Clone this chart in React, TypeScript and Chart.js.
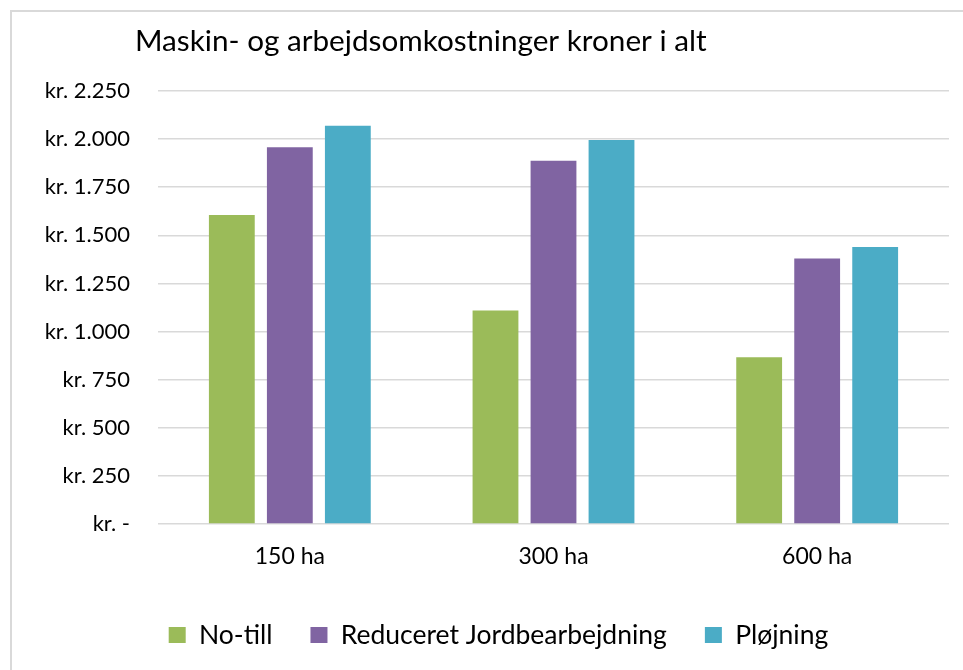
import React, { useEffect, useRef } from "react";
import { Chart, registerables } from "chart.js";

Chart.register(...registerables);

const titleText = "Maskin- og arbejdsomkostninger kroner i alt";
const categories = ["150 ha", "300 ha", "600 ha"];
const seriesNames = ["No-till", "Reduceret Jordbearbejdning", "Pløjning"];
const noTill = [1606, 1110, 866];
const reduceret = [1958, 1888, 1379];
const plojning = [2070, 1996, 1440];
const seriesColors = ["#9BBB59", "#8064A2", "#4BACC6"];
const yMin = 0;
const yMax = 2250;
const yStep = 250;

const FONT = "Lato, 'Noto Sans', sans-serif";

function formatKr(v: number): string {
  if (v === 0) return "kr. -";
  const s = Math.round(v).toString().replace(/\B(?=(\d{3})+(?!\d))/g, ".");
  return "kr. " + s;
}

const framePlugin = {
  id: "frame",
  beforeDraw(chart: any) {
    const ctx = chart.ctx;
    ctx.save();
    ctx.fillStyle = "#ffffff";
    ctx.fillRect(0, 0, chart.width, chart.height);
    ctx.strokeStyle = "#d9d9d9";
    ctx.lineWidth = 2;
    ctx.beginPath();
    ctx.moveTo(11, chart.height);
    ctx.lineTo(11, 11);
    ctx.lineTo(chart.width, 11);
    ctx.stroke();
    ctx.restore();
  },
};

const titlePlugin = {
  id: "leftTitle",
  afterDraw(chart: any) {
    const ctx = chart.ctx;
    ctx.save();
    ctx.font = `29.7px ${FONT}`;
    ctx.fillStyle = "#000000";
    ctx.textBaseline = "alphabetic";
    ctx.textAlign = "left";
    ctx.fillText(titleText, 135, 51);
    ctx.restore();
  },
};

export default function App() {
  const ref = useRef<HTMLCanvasElement | null>(null);

  useEffect(() => {
    if (!ref.current) return;
    const values = [noTill, reduceret, plojning];
    const chart = new Chart(ref.current, {
      type: "bar",
      data: {
        labels: categories,
        datasets: seriesNames.map((name, i) => ({
          label: name,
          data: values[i],
          backgroundColor: seriesColors[i],
          borderWidth: 0,
          categoryPercentage: 0.66,
          barPercentage: 0.79,
          yAxisID: "y",
        })),
      },
      plugins: [framePlugin, titlePlugin],
      options: {
        responsive: false,
        animation: false,
        events: [],
        layout: { padding: { left: 40, right: 6, top: 91, bottom: 11.75 } },
        plugins: {
          title: { display: false },
          tooltip: { enabled: false },
          legend: {
            display: true,
            position: "bottom",
            labels: {
              boxWidth: 17,
              boxHeight: 16,
              padding: 38,
              color: "#000000",
              font: { family: FONT, size: 26.5 },
            },
          },
        },
        scales: {
          x: {
            grid: { display: false, drawTicks: false },
            border: { display: false },
            afterFit(scale: any) {
              scale.height = 59.75;
            },
            ticks: {
              color: "#000000",
              font: { family: FONT, size: 23 },
              padding: 19,
            },
          },
          y: {
            min: yMin,
            max: yMax,
            position: "left",
            afterFit(scale: any) {
              scale.width = 118;
            },
            grid: { color: "#d9d9d9", lineWidth: 1.5, drawTicks: false },
            border: { display: false },
            ticks: {
              stepSize: yStep,
              color: "#000000",
              font: { family: FONT, size: 22 },
              padding: 28,
              callback: (v: any) => formatKr(Number(v)),
            },
          },
          spacer: {
            type: "linear",
            position: "right",
            display: true,
            grid: { display: false, drawTicks: false },
            border: { display: false },
            ticks: { display: false },
            afterFit(scale: any) {
              scale.width = 8;
            },
          },
        },
      },
    });
    return () => chart.destroy();
  }, []);

  return (
    <div style={{ position: "fixed", left: 0, top: 0, width: 963, height: 670, background: "#fff" }}>
      <canvas ref={ref} width={963} height={670} style={{ width: 963, height: 670, display: "block" }} />
    </div>
  );
}
